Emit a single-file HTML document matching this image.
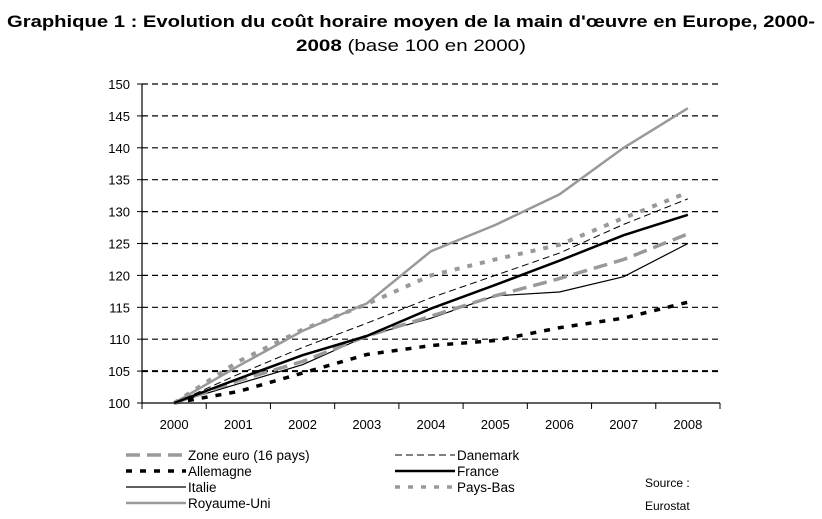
<!DOCTYPE html>
<html><head><meta charset="utf-8"><style>
body{margin:0;background:#fff;}
svg{display:block;font-family:"Liberation Sans",Arial,sans-serif;}
</style></head><body>
<svg id="chart" width="822" height="519" viewBox="0 0 822 519">
<text x="7" y="27" font-size="17" font-weight="bold" textLength="808" lengthAdjust="spacingAndGlyphs">Graphique 1 : Evolution du coût horaire moyen de la main d'œuvre en Europe, 2000-</text>
<text x="411" y="51" font-size="17" text-anchor="middle" textLength="230" lengthAdjust="spacingAndGlyphs"><tspan font-weight="bold">2008</tspan> (base 100 en 2000)</text>
<g id="grid"></g><g id="axes"></g><g id="series"></g>
<g id="legend"></g>
<text x="645" y="487" font-size="12">Source :</text>
<text x="645" y="510" font-size="12">Eurostat</text>
</svg>
<script>
const years = ["2000","2001","2002","2003","2004","2005","2006","2007","2008"];
const yTicks = [100,105,110,115,120,125,130,135,140,145,150];
const zoneEuro = [100,103.5,106.5,110.5,113.6,116.8,119.5,122.5,126.5];
const danemark = [100,104.5,108.7,112.5,116.5,120,123.5,128,132];
const allemagne = [100,101.8,104.7,107.6,109,109.8,111.8,113.3,115.8];
const france = [100,103.8,107.5,110.5,114.8,118.5,122.3,126.3,129.5];
const italie = [100,103,106,110.5,113.3,116.8,117.4,119.8,125];
const paysBas = [100,106.5,111.5,115.5,120,122.5,124.8,129,133];
const royaumeUni = [100,105.8,111.3,115.6,123.8,127.9,132.7,140,146.2];

const NS="http://www.w3.org/2000/svg";
const X0=142, X1=720, Y100=403, Y150=84;
const step=(X1-X0)/years.length;
const xs=i=>X0+step*(i+0.5);
const ys=v=>Y100-(v-100)*(Y100-Y150)/50;
function mk(tag,attrs,parent){const e=document.createElementNS(NS,tag);for(const k in attrs)e.setAttribute(k,attrs[k]);parent.appendChild(e);return e;}
const grid=document.getElementById('grid'),axes=document.getElementById('axes'),ser=document.getElementById('series'),leg=document.getElementById('legend');
yTicks.forEach(v=>{
  if(v>100){const l=mk('line',{x1:X0,x2:X1,y1:ys(v),y2:ys(v),stroke:'#000','stroke-width':v===105?2:1.2,'stroke-dasharray':'6,4'},grid);
  
  }
  const t=mk('text',{x:X0-12,y:ys(v)+5,'font-size':13,'text-anchor':'end'},axes);t.textContent=v;
  
  
  mk('line',{x1:X0-5,x2:X0,y1:ys(v),y2:ys(v),stroke:'#000'},axes);
});
let a=mk('line',{x1:X0,x2:X0,y1:Y150,y2:Y100,stroke:'#000','stroke-width':1.2},axes);


a=mk('line',{x1:X0,x2:X1,y1:Y100,y2:Y100,stroke:'#000','stroke-width':1.2},axes);


for(let i=0;i<=years.length;i++)mk('line',{x1:X0+step*i,x2:X0+step*i,y1:Y100,y2:Y100+6,stroke:'#000'},axes);
years.forEach((y,i)=>{const t=mk('text',{x:xs(i),y:Y100+26,'font-size':13,'text-anchor':'middle'},axes);t.textContent=y;
  
  });
const styles=[
 {n:'zone-euro',d:zoneEuro,c:'#999',w:3.5,da:'14,7',lab:'Zone euro (16 pays)',col:0,row:0},
 {n:'danemark',d:danemark,c:'#000',w:1,da:'7,4',lab:'Danemark',col:1,row:0},
 {n:'allemagne',d:allemagne,c:'#000',w:3.5,da:'6,8',lab:'Allemagne',col:0,row:1},
 {n:'france',d:france,c:'#000',w:2.5,da:'',lab:'France',col:1,row:1},
 {n:'italie',d:italie,c:'#000',w:1.2,da:'',lab:'Italie',col:0,row:2},
 {n:'pays-bas',d:paysBas,c:'#999',w:4,da:'5,8',lab:'Pays-Bas',col:1,row:2},
 {n:'royaume-uni',d:royaumeUni,c:'#999',w:2.5,da:'',lab:'Royaume-Uni',col:0,row:3}];
const order=['royaume-uni','italie','allemagne','zone-euro','danemark','pays-bas','france'];
order.forEach(nm=>{const s=styles.find(q=>q.n===nm);
 const p=mk('polyline',{points:s.d.map((v,i)=>xs(i)+','+ys(v)).join(' '),fill:'none',stroke:s.c,'stroke-width':s.w,'stroke-dasharray':s.da},ser);
 
 });
const rowY=[455,471,487,503];
styles.forEach(s=>{const lx=s.col?395:126,ty=rowY[s.row];
 const g=mk('g',{},leg);
 
 
 mk('line',{x1:lx,x2:lx+60,y1:ty,y2:ty,stroke:s.c,'stroke-width':Math.min(s.w,3.5),'stroke-dasharray':s.da},g);
 const t=mk('text',{x:lx+62,y:ty+5,'font-size':13.5},g);t.textContent=s.lab;});
</script>
</body></html>
